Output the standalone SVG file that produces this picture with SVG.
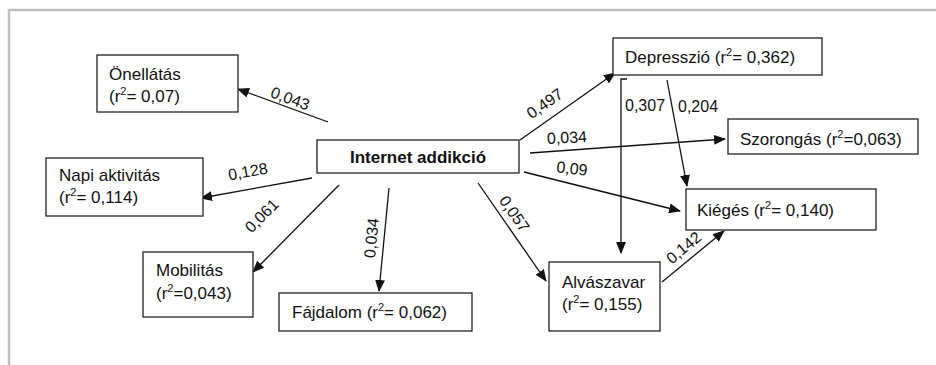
<svg xmlns="http://www.w3.org/2000/svg" width="936" height="365" viewBox="0 0 936 365">
<style>
  .box rect { fill: #fff; stroke: #222; stroke-width: 1.3; }
  .box text { font-family: "Liberation Sans", Arial, sans-serif; font-size: 17px; fill: #111; }
  .lbl { font-family: "Liberation Sans", Arial, sans-serif; font-size: 16px; fill: #111; text-anchor: middle; }
  .lbl0 { font-family: "Liberation Sans", Arial, sans-serif; font-size: 16px; fill: #111; }
  .edges path, .edges line { stroke: #111; stroke-width: 1.3; fill: none; }
  .sup { font-size: 11px; }
</style>
<defs>
  <marker id="ah" markerWidth="12" markerHeight="10" refX="11" refY="5" orient="auto" markerUnits="userSpaceOnUse">
    <path d="M0,0 L12,5 L0,10 Z" fill="#111"/>
  </marker>
</defs>
<rect width="936" height="365" fill="#fff"/>
<path d="M9,365 V10 H936" fill="none" stroke="#c0c0c0" stroke-width="2.5"/>

<g class="edges">
  <line x1="328" y1="122" x2="238" y2="89" marker-end="url(#ah)"/>
  <line x1="312" y1="178" x2="201" y2="198" marker-end="url(#ah)"/>
  <line x1="339" y1="185" x2="253" y2="272" marker-end="url(#ah)"/>
  <line x1="389" y1="188" x2="379" y2="291" marker-end="url(#ah)"/>
  <line x1="520" y1="140" x2="615" y2="73" marker-end="url(#ah)"/>
  <line x1="530" y1="153" x2="725" y2="139" marker-end="url(#ah)"/>
  <line x1="524" y1="172" x2="680" y2="211" marker-end="url(#ah)"/>
  <line x1="478" y1="183" x2="546" y2="281" marker-end="url(#ah)"/>
  <path d="M627,79 H621 V253" marker-end="url(#ah)"/>
  <line x1="667" y1="80" x2="687" y2="186" marker-end="url(#ah)"/>
  <line x1="662" y1="282" x2="724" y2="231" marker-end="url(#ah)"/>
</g>

<g id="onellatas" class="box">
  <rect x="97" y="55" width="141" height="57"/>
  <text x="109" y="80">Önellátás</text>
  <text x="109" y="102">(r<tspan class="sup" dy="-7">2</tspan><tspan dy="7">= 0,07)</tspan></text>
</g>
<g id="napi" class="box">
  <rect x="46" y="158" width="157" height="58"/>
  <text x="59" y="181">Napi aktivitás</text>
  <text x="59" y="203">(r<tspan class="sup" dy="-7">2</tspan><tspan dy="7">= 0,114)</tspan></text>
</g>
<g id="mobilitas" class="box">
  <rect x="143" y="252" width="110" height="65"/>
  <text x="156" y="276">Mobilitás</text>
  <text x="156" y="299">(r<tspan class="sup" dy="-7">2</tspan><tspan dy="7">=0,043)</tspan></text>
</g>
<g id="fajdalom" class="box">
  <rect x="279" y="293" width="193" height="38"/>
  <text x="292" y="318">Fájdalom (r<tspan class="sup" dy="-7">2</tspan><tspan dy="7">= 0,062)</tspan></text>
</g>
<g id="internet" class="box">
  <rect x="317" y="140" width="202" height="33"/>
  <text x="418" y="163" text-anchor="middle" font-weight="bold" style="font-size:17px">Internet addikció</text>
</g>
<g id="depresszio" class="box">
  <rect x="613" y="38" width="209" height="37"/>
  <text x="625" y="63">Depresszió (r<tspan class="sup" dy="-7">2</tspan><tspan dy="7">= 0,362)</tspan></text>
</g>
<g id="szorongas" class="box">
  <rect x="728" y="119" width="190" height="35"/>
  <text x="740" y="145">Szorongás (r<tspan class="sup" dy="-7">2</tspan><tspan dy="7">=0,063)</tspan></text>
</g>
<g id="kieges" class="box">
  <rect x="686" y="189" width="190" height="41"/>
  <text x="697" y="216">Kiégés (r<tspan class="sup" dy="-7">2</tspan><tspan dy="7">= 0,140)</tspan></text>
</g>
<g id="alvaszavar" class="box">
  <rect x="549" y="262" width="111" height="69"/>
  <text x="562" y="288">Alvászavar</text>
  <text x="562" y="310">(r<tspan class="sup" dy="-7">2</tspan><tspan dy="7">= 0,155)</tspan></text>
</g>

<g id="labels">
  <text class="lbl" transform="translate(290,99) rotate(20)" y="5">0,043</text>
  <text class="lbl" transform="translate(248,172) rotate(-10)" y="5">0,128</text>
  <text class="lbl" transform="translate(262,216) rotate(-45)" y="5">0,061</text>
  <text class="lbl" transform="translate(372,238) rotate(-84.5)" y="5">0,034</text>
  <text class="lbl" transform="translate(545,104) rotate(-35)" y="5">0,497</text>
  <text class="lbl" transform="translate(567,138) rotate(-3)" y="5">0,034</text>
  <text class="lbl" transform="translate(572,169) rotate(6)" y="5">0,09</text>
  <text class="lbl" transform="translate(514,214) rotate(55)" y="5">0,057</text>
  <text class="lbl0" x="625" y="111">0,307</text>
  <text class="lbl0" x="678" y="112">0,204</text>
  <text class="lbl" transform="translate(684,248) rotate(-40)" y="5">0,142</text>
</g>
</svg>
